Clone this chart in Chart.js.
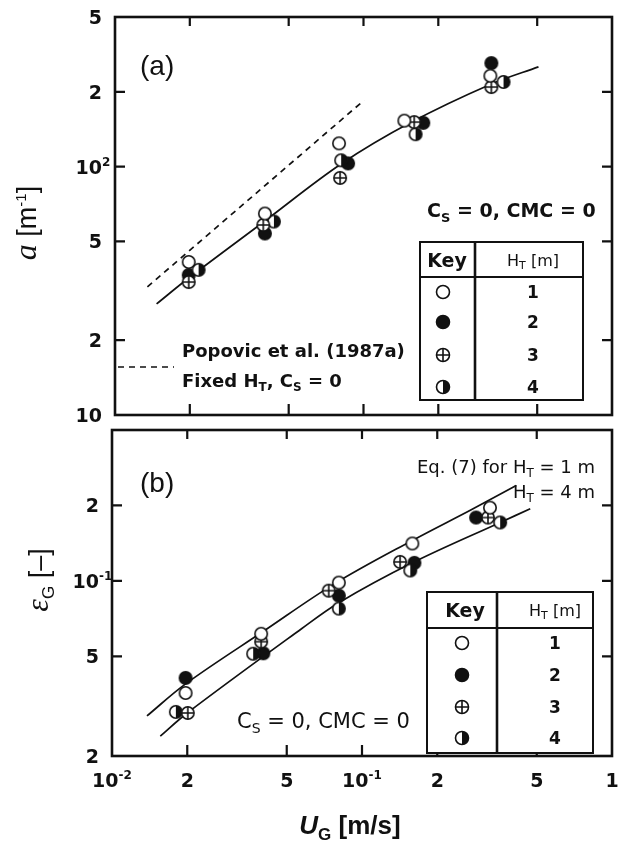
<!DOCTYPE html>
<html>
<head>
<meta charset="utf-8">
<script src="https://cdn.jsdelivr.net/npm/chart.js@4.4.1/dist/chart.umd.min.js"></script>
<style>
  html, body { margin: 0; padding: 0; background: #fff; }
  #page { position: relative; width: 619px; height: 841px; overflow: hidden; }
  canvas { position: absolute; left: 0; }
  #areaChart { top: 0; }
  #holdupChart { top: 420px; }
</style>
</head>
<body>
<div id="page">
  <canvas id="areaChart" width="619" height="430"></canvas>
  <canvas id="holdupChart" width="619" height="421"></canvas>
</div>
<script>
// superficial gas velocity axis, shared by both panels
var ugTicks = [0.01, 0.02, 0.05, 0.1, 0.2, 0.5, 1];
var ugTickLabels = ['10⁻²', '2', '5', '10⁻¹', '2', '5', '1'];
var ugInner = [0.02, 0.05, 0.1, 0.2, 0.5];

// (a) specific interfacial area a [1/m]
var areaTicks = [10, 20, 50, 100, 200, 400];
var areaTickLabels = ['10', '2', '5', '10²', '2', '5'];
var areaInner = [20, 50, 100, 200];

var ugAreaH1 = [0.0198, 0.0401, 0.0797, 0.146, 0.324];
var areaH1   = [41.3, 64.7, 124, 153, 232];
var ugAreaH2 = [0.0198, 0.0401, 0.0867, 0.174, 0.327];
var areaH2   = [36.6, 53.8, 103, 150, 261];
var ugAreaH3 = [0.0198, 0.0395, 0.0805, 0.160, 0.327];
var areaH3   = [34.3, 58.2, 90.0, 151, 209];
var ugAreaH4 = [0.0217, 0.0436, 0.0813, 0.162, 0.366];
var areaH4   = [38.4, 60.1, 106, 135, 219];

// fitted curve through the data
var ugAreaFit = [0.0147, 0.0198, 0.0401, 0.0812, 0.156, 0.327, 0.506];
var areaFit   = [28.0, 35.6, 60.4, 102.4, 151, 215, 252];

// Popovic et al. (1987a) correlation
var ugPopovic   = [0.0135, 0.1006];
var areaPopovic = [32.8, 185];

// (b) gas holdup eps_G [-]
var holdTicks = [0.02, 0.05, 0.1, 0.2];
var holdTickLabels = ['2', '5', '10⁻¹', '2'];
var holdLeft = [0.05, 0.1, 0.2];
var holdRight = [0.05, 0.1, 0.2];

var ugHoldH1 = [0.0197, 0.0395, 0.0808, 0.159, 0.325];
var holdH1   = [0.0357, 0.0615, 0.0984, 0.141, 0.196];
var ugHoldH2 = [0.0197, 0.0403, 0.0808, 0.162, 0.286];
var holdH2   = [0.0410, 0.0514, 0.0873, 0.118, 0.179];
var ugHoldH3 = [0.0201, 0.0395, 0.0736, 0.142, 0.319];
var holdH3   = [0.0297, 0.0572, 0.0914, 0.119, 0.179];
var ugHoldH4 = [0.0180, 0.0367, 0.0808, 0.156, 0.357];
var holdH4   = [0.0300, 0.0512, 0.0775, 0.110, 0.171];

// Eq. (7) for H_T = 1 m and H_T = 4 m
var ugEq1   = [0.0138, 0.0197, 0.0406, 0.0778, 0.159, 0.270, 0.414];
var holdEq1 = [0.0289, 0.0388, 0.0632, 0.0975, 0.145, 0.191, 0.240];
var ugEq4   = [0.0156, 0.0200, 0.0573, 0.0808, 0.159, 0.357, 0.471];
var holdEq4 = [0.0240, 0.0297, 0.0644, 0.0818, 0.118, 0.171, 0.194];

var ink = '#111';
var sans = '"DejaVu Sans", "Liberation Sans", sans-serif';
var arial = '"Liberation Sans", Arial, sans-serif';
var serif = '"Liberation Serif", "DejaVu Serif", serif';

function pairs(xs, ys) {
  return xs.map(function(x, i) { return {x: x, y: ys[i]}; });
}

// marker glyphs: open, filled, crossed, half filled
function marker(kind, r) {
  var c = document.createElement('canvas');
  var s = Math.ceil(r * 2 + 3);
  c.width = s; c.height = s;
  var g = c.getContext('2d');
  var m = s / 2;
  g.lineWidth = 1.6;
  g.beginPath(); g.arc(m, m, r, 0, Math.PI * 2);
  g.fillStyle = kind === 'filled' ? ink : '#fff';
  g.fill();
  if (kind === 'half') {
    g.beginPath(); g.moveTo(m, m - r);
    g.arc(m, m, r, -Math.PI / 2, Math.PI / 2);
    g.closePath(); g.fillStyle = ink; g.fill();
  }
  g.beginPath(); g.arc(m, m, r, 0, Math.PI * 2);
  g.strokeStyle = ink; g.stroke();
  if (kind === 'cross') {
    g.beginPath();
    g.moveTo(m - r, m); g.lineTo(m + r, m);
    g.moveTo(m, m - r); g.lineTo(m, m + r);
    g.stroke();
  }
  return c;
}
var kinds = ['open', 'filled', 'cross', 'half'];
var dataMarks = {}, keyMarks = {};
kinds.forEach(function(k) { dataMarks[k] = marker(k, 6.2); keyMarks[k] = marker(k, 6.5); });

function pointSet(xs, ys, kind) {
  return {data: pairs(xs, ys), pointStyle: dataMarks[kind], pointRadius: 6, showLine: false};
}
function curveSet(xs, ys, dash) {
  return {data: pairs(xs, ys), showLine: true, pointRadius: 0, borderColor: ink,
          borderWidth: 1.7, borderDash: dash || [], tension: 0.35};
}

// draw a run of differently styled text pieces (used for sub/superscripts)
function runs(ctx, parts, x, y, align) {
  var w = 0;
  parts.forEach(function(p) { ctx.font = p.f; w += ctx.measureText(p.t).width; });
  var cx = align === 'center' ? x - w / 2 : (align === 'right' ? x - w : x);
  ctx.textAlign = 'left';
  ctx.textBaseline = 'alphabetic';
  ctx.fillStyle = ink;
  parts.forEach(function(p) {
    ctx.font = p.f;
    ctx.fillText(p.t, cx, y + (p.dy || 0));
    cx += ctx.measureText(p.t).width;
  });
  return w;
}

// tick label like '10⁻¹' -> base '10' plus a small raised exponent
var supMap = {'⁻': '-', '¹': '1', '²': '2'};
function tickParts(label) {
  var base = '', exp = '';
  Array.from(label).forEach(function(ch) { if (supMap[ch]) exp += supMap[ch]; else base += ch; });
  var parts = [{t: base, f: 'bold 19px ' + sans}];
  if (exp) parts.push({t: exp, f: 'bold 12px ' + sans, dy: -8});
  return parts;
}

function yLabels(chart, values, labels) {
  var ctx = chart.ctx, a = chart.chartArea, y = chart.scales.y;
  values.forEach(function(v, i) {
    var p = y.getPixelForValue(v);
    var parts = tickParts(labels[i]);
    var baseW;
    ctx.font = parts[0].f; baseW = ctx.measureText(parts[0].t).width;
    // right edge of the base number sits at a fixed gap from the frame
    runs(ctx, parts, a.left - 13 - baseW, p + 7, 'left');
  });
}
function xLabels(chart, values, labels, yBase) {
  var ctx = chart.ctx, x = chart.scales.x;
  values.forEach(function(v, i) {
    runs(ctx, tickParts(labels[i]), x.getPixelForValue(v), yBase, 'center');
  });
}

function frameAndTicks(chart, xTop, xBottom, yLeft, yRight) {
  var ctx = chart.ctx, a = chart.chartArea, x = chart.scales.x, y = chart.scales.y;
  ctx.save();
  ctx.strokeStyle = ink;
  ctx.lineWidth = 2.2;
  ctx.beginPath();
  xTop.forEach(function(v) { var p = x.getPixelForValue(v); ctx.moveTo(p, a.top); ctx.lineTo(p, a.top + 9); });
  xBottom.forEach(function(v) { var p = x.getPixelForValue(v); ctx.moveTo(p, a.bottom); ctx.lineTo(p, a.bottom - 11); });
  yLeft.forEach(function(v) { var p = y.getPixelForValue(v); ctx.moveTo(a.left, p); ctx.lineTo(a.left + 10, p); });
  yRight.forEach(function(v) { var p = y.getPixelForValue(v); ctx.moveTo(a.right, p); ctx.lineTo(a.right - 10, p); });
  ctx.stroke();
  ctx.lineWidth = 2.6;
  ctx.strokeRect(a.left, a.top, a.right - a.left, a.bottom - a.top);
  ctx.restore();
}

// table-style key: symbol column | H_T column
function keyTable(ctx, t) {
  ctx.save();
  ctx.fillStyle = '#fff';
  ctx.fillRect(t.l, t.t, t.r - t.l, t.b - t.t);
  ctx.strokeStyle = ink;
  ctx.lineWidth = 2;
  ctx.strokeRect(t.l, t.t, t.r - t.l, t.b - t.t);
  ctx.beginPath(); ctx.moveTo(t.l, t.head); ctx.lineTo(t.r, t.head); ctx.stroke();
  ctx.lineWidth = 2.6;
  ctx.beginPath(); ctx.moveTo(t.split, t.t); ctx.lineTo(t.split, t.b); ctx.stroke();
  runs(ctx, [{t: 'Key', f: 'bold 19px ' + sans}], t.keyX, t.headY + 7, 'center');
  runs(ctx, [{t: 'H', f: '16px ' + sans}, {t: 'T', f: '11px ' + sans, dy: 3},
             {t: ' [m]', f: '16px ' + sans}], t.numX, t.headY + 6, 'center');
  kinds.forEach(function(k, i) {
    var img = keyMarks[k];
    ctx.drawImage(img, t.symX - img.width / 2, t.rows[i] - img.height / 2);
    runs(ctx, [{t: String(i + 1), f: 'bold 17px ' + sans}], t.numX, t.rows[i] + 6, 'center');
  });
  ctx.restore();
}

var areaDecor = {
  id: 'areaDecor',
  afterDraw: function(chart) {
    var ctx = chart.ctx;
    frameAndTicks(chart, ugInner, ugInner, areaInner, areaInner);
    ctx.save();
    yLabels(chart, areaTicks, areaTickLabels);
    runs(ctx, [{t: '(a)', f: '28px ' + arial}], 140, 75, 'left');
    runs(ctx, [{t: 'C', f: 'bold 19px ' + sans}, {t: 'S', f: 'bold 13px ' + sans, dy: 5},
               {t: ' = 0, CMC = 0', f: 'bold 19px ' + sans}], 427, 217, 'left');
    // Popovic key entry
    ctx.strokeStyle = ink; ctx.lineWidth = 1.6; ctx.setLineDash([6, 5]);
    ctx.beginPath(); ctx.moveTo(118, 367); ctx.lineTo(174, 367); ctx.stroke();
    ctx.setLineDash([]);
    runs(ctx, [{t: 'Popovic et al. (1987a)', f: 'bold 18px ' + sans}], 182, 357, 'left');
    runs(ctx, [{t: 'Fixed H', f: 'bold 18px ' + sans}, {t: 'T', f: 'bold 12px ' + sans, dy: 4},
               {t: ', C', f: 'bold 18px ' + sans}, {t: 'S', f: 'bold 12px ' + sans, dy: 4},
               {t: ' = 0', f: 'bold 18px ' + sans}], 182, 387, 'left');
    keyTable(ctx, {l: 420, t: 242, r: 583, b: 400, head: 277, split: 475, headY: 260,
                   keyX: 447, numX: 533, symX: 443, rows: [292, 322, 355, 387]});
    // y title
    ctx.translate(26, 223);
    ctx.rotate(-Math.PI / 2);
    runs(ctx, [{t: 'a', f: 'italic 32px ' + serif}, {t: ' [m', f: '27px ' + arial},
               {t: '-1', f: '15px ' + arial, dy: -10}, {t: ']', f: '27px ' + arial}], 0, 10, 'center');
    ctx.restore();
  }
};

var holdDecor = {
  id: 'holdDecor',
  afterDraw: function(chart) {
    var ctx = chart.ctx;
    frameAndTicks(chart, ugInner, ugInner, holdLeft, holdRight);
    ctx.save();
    yLabels(chart, holdTicks, holdTickLabels);
    xLabels(chart, ugTicks, ugTickLabels, 367);
    runs(ctx, [{t: '(b)', f: '28px ' + arial}], 140, 72, 'left');
    runs(ctx, [{t: 'Eq. (7) for H', f: '18px ' + sans}, {t: 'T', f: '12px ' + sans, dy: 4},
               {t: ' = 1 m', f: '18px ' + sans}], 595, 53, 'right');
    runs(ctx, [{t: 'H', f: '18px ' + sans}, {t: 'T', f: '12px ' + sans, dy: 4},
               {t: ' = 4 m', f: '18px ' + sans}], 595, 78, 'right');
    runs(ctx, [{t: 'C', f: '21px ' + sans}, {t: 'S', f: '14px ' + sans, dy: 5},
               {t: ' = 0, CMC = 0', f: '21px ' + sans}], 237, 308, 'left');
    keyTable(ctx, {l: 427, t: 172, r: 593, b: 333, head: 208, split: 497, headY: 190,
                   keyX: 465, numX: 555, symX: 462, rows: [223, 255, 287, 318]});
    // x title
    runs(ctx, [{t: 'U', f: 'bold italic 26px ' + arial}, {t: 'G', f: 'bold 17px ' + arial, dy: 6},
               {t: ' [m/s]', f: 'bold 26px ' + arial}], 350, 414, 'center');
    // y title
    ctx.translate(38, 160);
    ctx.rotate(-Math.PI / 2);
    runs(ctx, [{t: 'ε', f: 'italic 32px ' + serif}, {t: 'G', f: '17px ' + arial, dy: 6},
               {t: ' [–]', f: '27px ' + arial}], 0, 10, 'center');
    ctx.restore();
  }
};

// log axis whose tick values come from the arrays above; labels are painted by the decor plugins
function logAxis(min, max, ticks, fixed) {
  return {
    type: 'logarithmic', min: min, max: max,
    grid: {display: false, drawTicks: false},
    border: {display: false},
    afterBuildTicks: function(s) { s.ticks = ticks.map(function(v) { return {value: v}; }); },
    afterFit: fixed,
    ticks: {display: false}
  };
}

Chart.defaults.animation = false;
Chart.defaults.events = [];

new Chart(document.getElementById('areaChart'), {
  type: 'scatter',
  data: {datasets: [
    pointSet(ugAreaH1, areaH1, 'open'),
    pointSet(ugAreaH3, areaH3, 'cross'),
    pointSet(ugAreaH4, areaH4, 'half'),
    pointSet(ugAreaH2, areaH2, 'filled'),
    curveSet(ugAreaFit, areaFit),
    curveSet(ugPopovic, areaPopovic, [6, 5])
  ]},
  options: {
    responsive: false, devicePixelRatio: 1,
    layout: {padding: {top: 17, right: 6, left: 0, bottom: 0}},
    plugins: {legend: {display: false}, tooltip: {enabled: false}},
    scales: {
      x: logAxis(0.01, 1, ugTicks, function(s) { s.height = 15; }),
      y: logAxis(10, 400, areaTicks, function(s) { s.width = 115; })
    }
  },
  plugins: [areaDecor]
});

new Chart(document.getElementById('holdupChart'), {
  type: 'scatter',
  data: {datasets: [
    pointSet(ugHoldH1, holdH1, 'open'),
    pointSet(ugHoldH3, holdH3, 'cross'),
    pointSet(ugHoldH4, holdH4, 'half'),
    pointSet(ugHoldH2, holdH2, 'filled'),
    curveSet(ugEq1, holdEq1),
    curveSet(ugEq4, holdEq4)
  ]},
  options: {
    responsive: false, devicePixelRatio: 1,
    layout: {padding: {top: 10, right: 7, left: 0, bottom: 0}},
    plugins: {legend: {display: false}, tooltip: {enabled: false}},
    scales: {
      x: logAxis(0.01, 1, ugTicks, function(s) { s.height = 85; }),
      y: logAxis(0.02, 0.4, holdTicks, function(s) { s.width = 112; })
    }
  },
  plugins: [holdDecor]
});
</script>
</body>
</html>
